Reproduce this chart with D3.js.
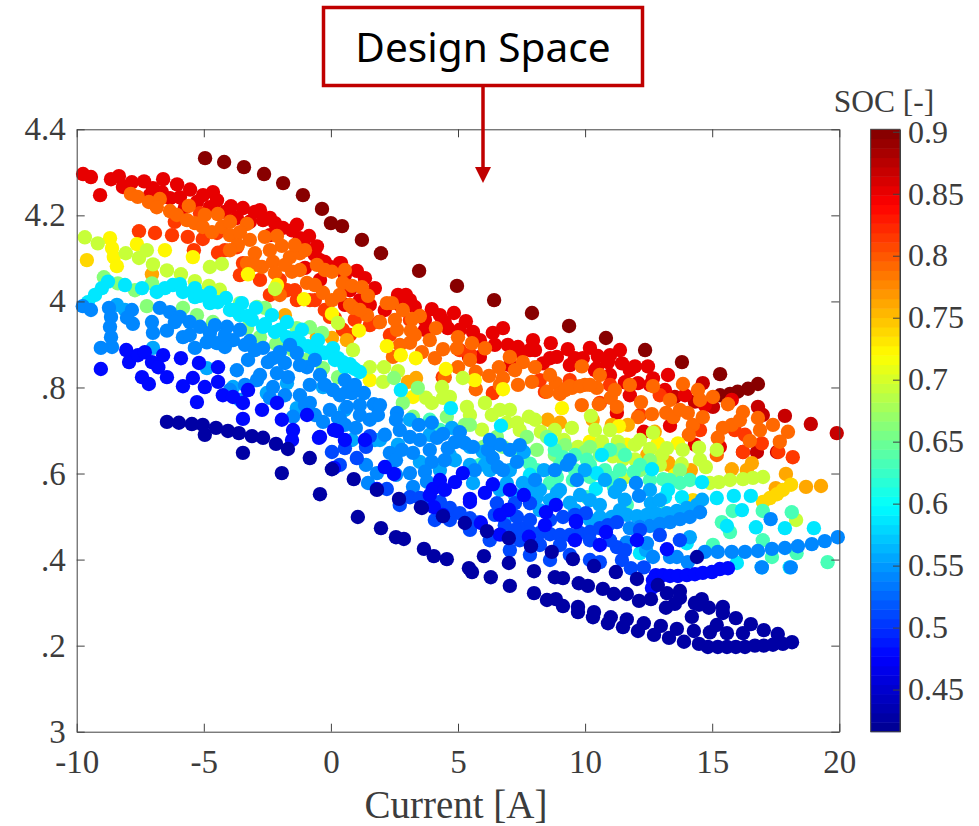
<!DOCTYPE html>
<html>
<head>
<meta charset="utf-8">
<title>Design Space</title>
<script src="https://cdn.jsdelivr.net/npm/d3@7"></script>
<style>
  html, body { margin: 0; padding: 0; background: #fff; }
  svg { display: block; }
  text { font-family: "Liberation Serif", serif; fill: #3c3c3c; }
</style>
</head>
<body>
<div id="chart-container"></div>
<script>
// tick labels (the y labels really are cut off like this in the figure)
const xTicks = [-10, -5, 0, 5, 10, 15, 20];
const xTickLabels = ["-10", "-5", "0", "5", "10", "15", "20"];
const yTicks = [3, 3.2, 3.4, 3.6, 3.8, 4, 4.2, 4.4];
const yTickLabels = ["3", ".2", ".4", ".6", ".8", "4", "4.2", "4.4"];
const socTicks = [0.45, 0.5, 0.55, 0.6, 0.65, 0.7, 0.75, 0.8, 0.85, 0.9];
const socTickLabels = ["0.45", "0.5", "0.55", "0.6", "0.65", "0.7", "0.75", "0.8", "0.85", "0.9"];
const socRange = [0.416, 0.902];

// jet colour map stops
const jetStops = [0, 0.125, 0.375, 0.625, 0.875, 1];
const jetColors = ["#00008f", "#0000ff", "#00ffff", "#ffff00", "#ff0000", "#800000"];

// [current A, voltage V], one list per SOC level
const soc900 = [[-4.95,4.333],[-4.2,4.324],[-3.42,4.312],[-2.63,4.296],[-1.88,4.275],[-1.1,4.247],[-.35,4.215],[0,4.182],[.44,4.175],[1.22,4.143],[1.97,4.112],[3.47,4.071],[4.96,4.036],[6.42,4.003],[7.91,3.973],[9.37,3.943],[10.82,3.915],[12.36,3.887],[13.81,3.859],[15.31,3.831],[16.8,3.808],[16.41,3.797],[16,3.79],[15.7,3.785],[15.31,3.782]];
const soc868 = [[18.88,3.715],[19.9,3.694],[17.86,3.734],[14.63,3.81],[13.53,3.778],[14.32,3.767],[15.03,3.755],[16.99,3.736],[16.8,3.755],[17.55,3.65],[16.76,3.65],[16.21,3.65]];
const soc856 = [[-9.75,4.296],[-9.44,4.289],[-9.08,4.247],[-8.65,4.284],[-8.34,4.291],[-8.18,4.266],[-7.83,4.277],[-7.35,4.279],[-7,4.263],[-6.6,4.284],[-6.05,4.272],[-5.94,4.242],[-5.54,4.26],[-5.03,4.247],[-4.64,4.254],[-4.48,4.235],[-3.93,4.221],[-3.46,4.217],[-2.79,4.212],[-2.67,4.189],[-2.2,4.182],[-1.53,4.165],[-.86,4.152],[-.55,4.128],[-.43,4.096],[.4,4.089],[-.04,4.08],[.35,4.089],[1.02,4.071],[1.34,4.054],[1.73,4.031],[2.64,4.015],[2.95,4.015],[3.3,3.987],[3.97,3.982],[4.29,3.968],[4.84,3.973],[5.31,3.954],[4.6,3.938],[3.7,3.934],[5.59,3.929],[6.37,3.927],[6.77,3.938],[6.96,3.899],[7.36,3.894],[7.95,3.91],[7.83,3.887],[8.65,3.903],[8.89,3.871],[9.32,3.889],[9.91,3.868],[10.5,3.873],[10.98,3.875],[10.46,3.845],[9.4,3.852],[8.34,3.856],[7.04,3.852],[5.86,3.871],[5.43,3.871],[10.9,3.859],[11.45,3.856],[11.96,3.849],[12.47,3.849],[10.39,3.84],[10.98,3.829],[11.57,3.812],[12.08,3.81],[12.67,3.821],[13.26,3.829],[11.76,3.782],[11.25,3.741],[13.34,3.711],[12.31,3.697],[14.32,3.667],[15.3,3.662],[15.77,3.771],
  [-7.12,4.247],[-6.65,4.254],[-6.33,4.24],[-5.74,4.219],[-5.27,4.231],[-4.76,4.219],[-4.17,4.208],[-3.7,4.194],[-3.19,4.185],[-2.99,4.208],[-2.4,4.194],[-1.89,4.171],[-2.4,4.154],[-1.22,4.147],[-1.34,4.178],[-1.02,4.124],[-.63,4.108],[-.24,4.092],[-1.02,4.078],[-.43,4.05],[.55,4.061],[.75,4.026],[1.14,4.003],[.55,3.992],[1.53,3.992],[2.12,3.98],[2.71,3.992],[3.11,4.003],[3.7,3.957],[4.48,3.952],[5.07,3.934],[5.86,3.91],[6.45,3.899],[7.43,3.882],[8.03,3.887],[8.62,3.868],[9.6,3.868],[10.19,3.892],[11.37,3.887],[11.76,3.84],[12.55,3.806],[13.14,3.794],[13.93,3.782],[14.71,3.759]];
const soc818 = [[-7.55,4.163],[-6.92,4.159],[-6.25,4.154],[-5.63,4.15],[-5.04,4.145],[-4.48,4.159],[-4.44,4.113],[-5.39,4.119],[-3.7,4.126],[-5.15,4.205],[-6.14,4.185],[-3.46,4.089],[-1.34,4.003],[-.83,4.003],[-1.73,4.026],[.47,3.934],[-.04,3.964],[1.89,3.952],[5.47,3.878],[6.37,3.787],[4.4,3.824],[8.42,3.79],[10.58,3.764],[16.95,3.67],[16.21,3.65],[18.17,3.638],[17.6,3.65],[16.29,3.69],
  [-4.17,4.119],[-3.58,4.061],[-2.79,4.05],[-2.01,4.05],[-2.4,4.015],[-1.42,4.026],[-.63,4.003],[-.24,3.98],[.16,3.961],[.94,3.957],[1.53,3.945],[.75,3.922],[2.32,3.922],[3.11,3.957],[5.07,3.887],[8.22,3.817],[9.4,3.817],[10.98,3.806],[12.94,3.782],[12.16,3.736],[14.52,3.701],[15.89,3.701]];
const soc790 = [[-7.87,4.25],[-7.6,4.243],[-7.16,4.231],[-6.73,4.238],[-6.85,4.219],[-6.33,4.21],[-6.06,4.201],[-5.59,4.222],[-5.66,4.189],[-5.35,4.182],[-5.04,4.173],[-4.45,4.203],[-4.68,4.161],[-4.29,4.173],[-3.97,4.154],[-3.3,4.18],[-3.66,4.131],[-3.3,4.089],[-2.99,4.112],[-2.6,4.15],[-2.12,4.152],[-1.93,4.129],[-2.71,4.08],[-2.28,4.092],[-2.2,4.066],[-1.61,4.103],[-1.22,4.112],[-1.02,4.119],[-1.53,4.069],[-.94,4.043],[-.55,4.085],[.04,4.069],[-.31,4.02],[.04,4.003],[.47,4.043],[.83,4.036],[1.22,4.033],[1.46,4.013],[.87,3.985],[1.42,3.968],[1.93,3.952],[2.2,3.996],[2.4,3.996],[2.83,3.98],[3.5,3.966],[3.19,3.959],[2.6,3.934],[3.15,3.932],[3.11,3.904],[2.44,3.871],[3.58,3.882],[4.13,3.938],[4.41,3.889],[5,3.917],[5.55,3.903],[6.06,3.891],[4.96,3.891],[4.09,3.868],[5,3.847],[4.48,3.824],[5.7,3.836],[6.22,3.827],[6.61,3.847],[7.04,3.871],[7.55,3.859],[8.03,3.847],[6.77,3.822],[7.36,3.806],[7.91,3.813],[8.5,3.79],[8.85,3.81],[9.01,3.785],[9.4,3.803],[9.87,3.849],[9.99,3.806],[10.46,3.799],[9.87,3.759],[10.54,3.761],[5.7,3.796],[11.01,3.776],[11.25,3.755],[12.2,3.766],[12.63,3.738],[12.67,3.803],[13.19,3.741],[13.47,3.731],[13.85,3.808],[14.04,3.741],[14.44,3.794],[14.24,3.713],[14.63,3.731],[15.03,3.778],[15.62,3.761],[15.77,3.713],[15.42,3.706],[16.21,3.743],[16.8,3.729],[17.39,3.713],[17.98,3.697],[17.66,3.674],[16.48,3.676],[14.08,3.69],[15.22,3.683],[15.18,3.643],[12.08,3.731],
  [-4.96,4.201],[-3.97,4.185],[-3.58,4.161],[-3.19,4.143],[-3.97,4.119],[-2.99,4.085],[-1.81,4.085],[-2.4,4.119],[-1.42,4.131],[-2.01,4.015],[-1.22,4.073],[-.63,4.038],[.35,4.015],[.75,3.992],[1.14,3.98],[-.24,4.073],[.55,4.073],[2.52,3.957],[3.89,3.91],[3.3,3.922],[2.71,3.899],[5.47,3.864],[7.24,3.84],[6.65,3.806],[8.62,3.829],[10.58,3.829],[11.17,3.794],[11.76,3.806],[13.34,3.771],[13.73,3.748],[14.52,3.771],[16.09,3.724],[16.88,3.701],[9.21,3.794],[9.48,3.799],[9.8,3.803],[10.19,3.806]];
const soc762 = [[18.69,3.569],[19.28,3.571],[17.9,3.599],[17.5,3.566],[16.56,3.624],[15.77,3.61],[16.36,3.608],[-7.04,4.063],[3.35,3.822],[3.03,3.813],[8.53,3.725],[9.01,3.718],[12.44,3.643],[13.3,3.62],[14.16,3.608],[12.74,3.697],[-1.81,3.968],[.63,3.91],[.04,3.915],[-.55,3.917],[13.26,3.626],[10.3,3.725],[11.05,3.713],[11.68,3.713]];
const soc739 = [[-9.6,4.096],[18.1,3.574],[17.78,3.562],[17.55,3.552],[17.27,3.543],[17,3.534],[14.24,3.538]];
const soc720 = [[-8.69,4.147],[-8.61,4.124],[-8.54,4.103],[-8.42,4.082],[-7.63,4.133],[-6.53,4.119],[-5.43,4.103],[-3.26,4.063],[-2.12,4.038],[-1.06,4.005],[.04,3.971],[1.1,3.932],[2.2,3.896],[3.34,3.868],[4.52,3.843],[5.66,3.817],[6.77,3.796],[9.09,3.752],[11.33,3.71],[10.19,3.674],[11.64,3.667],[13.65,3.67],[12.86,3.67],[13.53,3.596],[1.53,3.817],[3.23,3.778],[2.75,3.875]];
const soc693 = [[-9.68,4.149],[-9.17,4.135],[-8.07,4.112],[-7.55,4.101],[-7.24,4.119],[-7,4.086],[-6.45,4.072],[-5.9,4.063],[-5.35,4.047],[-4.8,4.036],[-4.76,4.08],[-4.29,4.087],[-4.37,4.027],[-2.2,4.029],[.28,3.95],[5.19,3.822],[10.23,3.734],[7.79,3.732],[7.04,3.748],[6.06,3.764],[6.33,3.736],[5.35,3.755],[.87,3.887],[1.53,3.847],[2.09,3.847],[2.64,3.838],[2.05,3.813],[17,3.592],[16.6,3.59],[16.21,3.587],[15.7,3.585],[15.26,3.58],[14.91,3.578],[12.67,3.695],[15.18,3.655],[13.84,3.655],[14.48,3.66],[14.52,3.632],[14.75,3.615],[13.8,3.622],[13.02,3.643],[13.22,3.659],[12.55,3.657],[11.96,3.667],[11.29,3.674],[10.66,3.674],[11.09,3.64],[11.49,3.633],[11.49,3.588],[11.96,3.633],[12.94,3.62],[9.48,3.706],[9.17,3.678],[9.72,3.662],[10.66,3.671],[8.26,3.697],[6.92,3.718],[7.32,3.718],[5.94,3.702],[4.37,3.801],[4.68,3.778],[4.41,3.776],[3.74,3.776],[3.97,3.764],[18.3,3.492],
  [5.47,3.736],[7.43,3.701],[8.03,3.725],[8.81,3.701],[10.39,3.701],[10.98,3.701],[12.16,3.678],[6.65,3.748]];
const soc659 = [[-8.93,4.056],[-8.38,4.042],[-7.71,4.026],[-7.24,3.989],[-7.04,4.042],[-5.82,3.985],[-5.27,3.968],[-4.64,3.952],[-3.58,3.996],[-2.91,3.987],[-2.6,3.985],[-3.3,3.938],[-2.79,3.917],[-2.16,3.901],[-1.34,3.938],[-.83,3.94],[-.35,3.927],[-.31,3.845],[-.94,3.864],[-1.49,3.887],[.28,3.824],[2.48,3.822],[3.42,3.799],[2.83,3.764],[3.23,3.732],[4.56,3.732],[5.27,3.713],[5.47,3.713],[6.53,3.685],[7.71,3.685],[8.5,3.685],[8.1,3.655],[7.55,3.648],[6.77,3.662],[6,3.662],[10.19,3.662],
  [11.37,3.655],[10.58,3.643],[9.99,3.65],[9.21,3.666],[8.81,3.643],[12.16,3.608],[13.73,3.608],[12.55,3.631]];
const soc630 = [[7.16,3.654],[8.1,3.608],[8.89,3.592],[9.52,3.585],[10.07,3.545],[8.61,3.578],[7.83,3.623],[9.13,3.638],[10.07,3.632],[11.13,3.569],[10.19,3.592],[11.92,3.604],[11.05,3.59],[13.07,3.587],[13.73,3.578],[11.64,3.527],[13.14,3.508],[15.38,3.487],[15.7,3.464],[15.81,3.513],[16.99,3.513],[18.13,3.51],[16.99,3.445],[15.03,3.434],[17.35,3.406],[18.32,3.415],[19.54,3.394],
  [8.81,3.655],[9.6,3.643],[10.98,3.655],[11.57,3.643],[12.16,3.62],[12.55,3.585],[13.34,3.585],[14.12,3.585],[9.6,3.608],[10.19,3.62],[10.78,3.608],[11.37,3.608],[9.01,3.62],[6.25,3.643],[5.86,3.62],[4.29,3.701],[3.89,3.725]];
const soc590 = [[-8.77,4.046],[-9.01,4.031],[-9.28,4.015],[-9.56,3.998],[-8.1,4.038],[-7.43,4.031],[-6.85,4.022],[-6.53,4.031],[-6.22,4.038],[-5.94,4.04],[-5.82,4.022],[-5.35,4.031],[-5.35,4.01],[-4.76,4.02],[-4.76,3.996],[-4.13,4.008],[-3.97,3.98],[-3.5,3.996],[-3.58,3.968],[-2.95,3.985],[-3.11,3.957],[-2.67,3.941],[-2.32,3.968],[-2.2,3.929],[-1.73,3.952],[-1.73,3.917],[-1.22,3.905],[-1.14,3.934],[-.71,3.891],[-.51,3.91],[-.24,3.88],[.08,3.891],[.16,3.864],[.55,3.847],[.83,3.847],[1.14,3.836],[.47,3.859],[2.75,3.794],[4.72,3.752],[6.69,3.711],[8.65,3.678],[10.66,3.643],[12.63,3.61],[14.6,3.58],[10.46,3.601],[10.42,3.564],[7.83,3.597],[13.26,3.562],[13.14,3.545],[13.81,3.545],[15.18,3.543],[15.85,3.548],[16.52,3.548],[16.17,3.515],[16.72,3.475],[17.86,3.473],[19,3.473],[15.58,3.478],[14,3.438],[15.97,3.392],[12.16,3.415],[16.95,3.382],[18.05,3.382],
  [-5.15,4.013],[-4.45,3.998],[-3.82,3.98],[-3.27,3.966],[-2.6,3.947],[-2.01,3.934],[-1.42,3.915],[-.9,3.896],[-.35,3.882],[.28,3.868],[.75,3.854],[.94,3.843]];
const soc560 = [[-8.42,3.992],[-8.1,3.98],[-7,3.892],[-4.88,3.845],[-3.85,3.801],[-2.52,3.787],[-1.73,3.81],[-.31,3.801],[-1.34,3.752],[4.76,3.706],[5.47,3.662],[6.92,3.578],[7.55,3.578],[8.1,3.545],[8.89,3.555],[9.4,3.532],[7.59,3.65],[8.38,3.608],[5.59,3.578],[5.98,3.65],[11.17,3.557],[12.59,3.531],[14.12,3.452],[12.4,3.422],[.83,3.678],[2.64,3.667],[3.5,3.627],[1.93,3.678],[4.29,3.608],[4.88,3.631],[6.25,3.608],[7.04,3.608],[8.22,3.562],[10.19,3.492],[11.56,3.539],[11.64,3.504],[12.04,3.501],[12.43,3.504],[12.82,3.506],[13.22,3.508],[13.61,3.513],[14,3.52],[14.4,3.527],[14.6,3.539],[10.58,3.499],[11.05,3.499],
  [.55,3.748],[1.73,3.678],[3.11,3.725],[3.89,3.69],[4.68,3.643],[5.47,3.62],[6.06,3.62],[6.65,3.562],[7.24,3.55],[7.83,3.562],[8.62,3.538],[9.01,3.562],[9.8,3.55],[10.19,3.538],[10.58,3.527],[11.37,3.515],[9.6,3.515],[8.22,3.515],[7.04,3.504],[12.55,3.562],[12.94,3.538],[10.78,3.585],[11.37,3.573],[9.99,3.608]];
const soc545 = [[-8.73,3.985],[-8.65,3.964],[-8.69,3.941],[-8.65,3.917],[-8.61,3.894],[-9.05,3.892],[-9.76,3.989],[-9.44,3.98],[-7.83,3.98],[-7.79,3.948],[-8.02,3.962],[-6.73,3.985],[-6.33,3.975],[-5.94,3.964],[-5.55,3.952],[-5.15,3.941],[-4.76,3.927],[-7.04,3.952],[-7,3.927],[-6.45,3.932],[-5.82,3.917],[-5.35,3.892],[-4.88,3.905],[-4.48,3.903],[-4.09,3.941],[-3.85,3.91],[-4.17,3.894],[-3.19,3.908],[-3.7,3.84],[-3.26,3.864],[-2.67,3.892],[-2.28,3.868],[-1.81,3.857],[-1.34,3.88],[-.94,3.847],[-1.69,3.824],[-.43,3.829],[.08,3.794],[-2.28,3.801],[-2.4,3.776],[-1.49,3.732],[-3.97,3.794],[-2.91,3.817],[-2.12,3.833],[-.83,3.764],[-.31,3.72],[.28,3.729],[.63,3.79],[.83,3.787],[1.3,3.787],[1.69,3.761],[.63,3.755],[.35,3.729],[.98,3.706],[1.53,3.725],[1.85,3.736],[2.6,3.741],[2.56,3.725],[3.11,3.685],[3.46,3.713],[3.97,3.718],[4.41,3.692],[4.88,3.673],[4.6,3.659],[5.27,3.671],[5.59,3.662],[6.18,3.655],[6.37,3.636],[6.77,3.608],[6.57,3.615],[7.32,3.627],[9.28,3.62],[9.68,3.585],[6.65,3.667],[12,3.578],[12.12,3.548],[17.3,3.494],[2.32,3.648],[2.79,3.655],[3.23,3.648],[3.89,3.655],[4.48,3.631],[3.97,3.627],[3.7,3.604],[3.11,3.601],[3.23,3.569],[3.78,3.581],[1.38,3.62],[1.46,3.578],[1.81,3.601],[2.2,3.615],[2.56,3.597],[2.56,3.631],[14.71,3.418],[15.22,3.418],[15.77,3.418],[16.29,3.418],[16.8,3.42],[17.35,3.425],[17.86,3.427],[18.37,3.431],[18.92,3.436],[19.43,3.443],[19.94,3.452],[16.95,3.382],[18.09,3.382],[11.76,3.473],[12.16,3.476],[12.55,3.478],[12.94,3.483],[13.34,3.487],[13.73,3.494],[14.12,3.499],[14.52,3.51],[11.64,3.44],[12.43,3.438],[12.67,3.406],[13.34,3.406],[13.61,3.406],[14.04,3.394],
  [-5.55,3.922],[-6.14,3.952],[-4.56,3.945],[-4.17,3.922],[-3.58,3.934],[-3.38,3.899],[-2.99,3.887],[-2.48,3.859],[-2.01,3.882],[-1.61,3.899],[-1.22,3.852],[-.63,3.864],[-.24,3.806],[-.83,3.806],[-1.22,3.782],[-1.81,3.782],[-2.79,3.829],[-3.38,3.806],[-3.58,3.771],[.55,3.817],[.94,3.806],[.35,3.782],[1.14,3.759],[-.04,3.748],[-.63,3.736],[-1.02,3.759],[.55,3.713],[1.14,3.736],[2.12,3.69],[2.71,3.701],[1.93,3.759],[3.5,3.678],[4.17,3.683],[5.07,3.696],[5.66,3.608],[6.25,3.678],[7.04,3.655],[7.43,3.666],[8.03,3.585],[8.81,3.608],[9.4,3.631]];
const soc514 = [[7.51,3.473],[7.83,3.464],[8.22,3.462],[8.62,3.459],[9.01,3.457],[9.4,3.457],[9.8,3.462],[10.19,3.464],[10.58,3.473],[10.9,3.48],[11.25,3.487],[3.11,3.545],[3.5,3.543],[3.89,3.538],[4.29,3.534],[4.68,3.52],[5.07,3.508],[5.47,3.496],[5.86,3.487],[.35,3.62],[.55,3.659],[.04,3.65],[1.38,3.662],[1.02,3.636],[1.53,3.687],[2.2,3.564],[7.24,3.531],[6.53,3.531],[7.32,3.499],[7.83,3.531],[9.13,3.499],[10.03,3.508],[10.58,3.394],[11.45,3.399],[11.8,3.38],[12.31,3.382],[11.25,3.429],
  [6.45,3.504],[6.84,3.48],[7.24,3.469],[7.83,3.492],[8.62,3.492],[9.6,3.504],[10.19,3.445],[10.98,3.445],[9.01,3.434],[8.22,3.434],[7.43,3.445],[11.57,3.422],[12.16,3.469],[12.94,3.457],[13.73,3.445],[4.09,3.492],[2.71,3.527],[4.68,3.492],[5.47,3.469],[6.25,3.445],[7.04,3.422],[7.83,3.411],[8.62,3.399],[9.4,3.411],[10.19,3.399]];
const soc478 = [[-8.05,3.887],[-7.94,3.859],[-7.59,3.875],[-7.32,3.882],[-7.43,3.824],[-7.16,3.808],[-9.05,3.843],[-7.04,3.859],[-6.6,3.875],[-6.79,3.847],[-6.45,3.824],[-5.9,3.868],[-5.82,3.803],[-5.43,3.822],[-5.19,3.857],[-4.96,3.801],[-4.44,3.847],[-4.44,3.813],[-4.25,3.782],[-3.85,3.778],[-3.46,3.764],[-3.26,3.794],[-5.27,3.766],[-3.46,3.727],[-2.71,3.748],[-2.12,3.764],[-1.93,3.725],[-.94,3.736],[-1.49,3.701],[-.43,3.685],[.24,3.699],[-1.53,3.678],[-.47,3.683],[.12,3.701],[.12,3.613],[1.81,3.564],[2.48,3.599],[2.12,3.615],[4.05,3.522],[4.4,3.504],[5.47,3.541],[6.06,3.555],[6.37,3.575],[4.88,3.58],[5.19,3.601],[4.01,3.564],[7.59,3.55],[6.96,3.515],[8.46,3.51],[8.85,3.527],[9.64,3.49],[12.04,3.445],[13.22,3.424],[10.82,3.464],[9.64,3.487],[7,3.516],[5.47,3.534],[5.9,3.485],[6.65,3.458],[7.79,3.453],[12.78,3.364],[13.06,3.364],[13.34,3.362],[13.65,3.362],[14,3.364],[14.32,3.366],[14.63,3.369],[14.99,3.371],[15.3,3.378],[15.62,3.38],[12.63,3.334],[12.67,3.352],
  [.55,3.678],[1.34,3.678],[4.29,3.585],[3.89,3.55],[4.48,3.562],[7.04,3.562],[6.65,3.504],[8.42,3.48],[9.6,3.445],[10.58,3.434]];
const soc430 = [[-6.45,3.72],[-5.98,3.718],[-5.47,3.715],[-5.04,3.713],[-4.52,3.706],[-4.05,3.699],[-3.62,3.694],[-3.11,3.687],[-2.67,3.683],[-4.96,3.69],[-2.16,3.669],[-1.69,3.657],[-3.46,3.648],[-1.93,3.601],[-.83,3.636],[-.43,3.552],[.04,3.61],[.9,3.587],[1.06,3.499],[1.97,3.473],[2.56,3.452],[2.87,3.448],[3.66,3.425],[1.81,3.562],[2.68,3.541],[3.54,3.522],[4.05,3.408],[4.56,3.401],[5.43,3.38],[5.55,3.371],[6.02,3.408],[6.29,3.359],[7,3.392],[7.04,3.339],[7.99,3.373],[7.99,3.322],[8.5,3.306],[8.85,3.308],[9.13,3.292],[8.81,3.359],[9.13,3.357],[9.75,3.345],[10.11,3.339],[10.7,3.332],[11.13,3.32],[11.64,3.32],[9.72,3.29],[9.72,3.278],[10.35,3.278],[10.31,3.266],[11.01,3.266],[10.9,3.252],[11.64,3.261],[11.49,3.243],[12.31,3.252],[12.08,3.234],[12.98,3.246],[12.71,3.225],[13.3,3.218],[13.61,3.239],[13.89,3.209],[14.28,3.234],[14.48,3.204],[14.91,3.231],[14.83,3.197],[15.22,3.197],[15.58,3.197],[15.93,3.197],[16.29,3.197],[16.68,3.2],[17.03,3.2],[17.39,3.202],[17.78,3.204],[18.14,3.208],[17.58,3.227],[17.03,3.236],[16.52,3.25],[16.21,3.229],[15.93,3.264],[15.58,3.229],[15.18,3.248],[15.42,3.276],[15.42,3.29],[14.87,3.288],[14.2,3.267],[14.59,3.308],[14.32,3.299],[14.48,3.295],[13.73,3.327],[13.73,3.311],[13.53,3.297],[13.18,3.288],[13.22,3.322],[12.59,3.308],[12.12,3.304],[12.04,3.355],[12.86,3.341],[11.21,3.371],[10.35,3.385],[9.52,3.401],[8.69,3.418],[7.87,3.431],[7,3.45],[6.14,3.466],[5.27,3.485],[4.41,3.501],[3.58,3.52],[14.4,3.406]];

// high SOC is drawn first, low SOC ends up on top
const socLevels = [0.9, 0.868, 0.856, 0.818, 0.79, 0.762, 0.739, 0.72, 0.693, 0.659, 0.63, 0.59, 0.56, 0.545, 0.514, 0.478, 0.43];
const socSeries = [soc900, soc868, soc856, soc818, soc790, soc762, soc739, soc720, soc693, soc659, soc630, soc590, soc560, soc545, soc514, soc478, soc430];

const width = 979, height = 826;
const plot = { left: 76.7, right: 839.3, top: 129.3, bottom: 731.7 };
const bar = { left: 870.7, right: 900 };

const svg = d3.select("#chart-container")
  .append("svg")
    .attr("width", width)
    .attr("height", height);

const x = d3.scaleLinear().domain([-10, 20]).range([plot.left, plot.right]);
const y = d3.scaleLinear().domain([3, 4.4]).range([plot.bottom, plot.top]);
const socY = d3.scaleLinear().domain(socRange).range([plot.bottom, plot.top]);

// jet is stepped in 64 levels like the colour bar
const jet = d3.scaleLinear().domain(jetStops).range(jetColors).clamp(true);
const socColor = soc => {
  const t = (soc - socRange[0]) / (socRange[1] - socRange[0]);
  return jet((Math.min(Math.floor(t * 64), 63) + 0.5) / 64);
};

// points
socSeries.forEach((pts, i) => {
  svg.append("g")
    .selectAll("circle")
    .data(pts)
    .join("circle")
      .attr("cx", d => x(d[0]))
      .attr("cy", d => y(d[1]))
      .attr("r", 7.2)
      .attr("fill", socColor(socLevels[i]));
});

// axes, with ticks on all four sides like a boxed matlab plot
function styleAxis(g, size) {
  g.selectAll("path, line").attr("stroke", "#404040");
  g.selectAll("text").attr("font-size", size).attr("fill", "#3c3c3c");
}

svg.append("g")
  .attr("transform", `translate(0,${plot.bottom})`)
  .call(d3.axisBottom(x).tickValues(xTicks).tickSizeInner(-8).tickSizeOuter(0).tickPadding(18)
    .tickFormat((d, i) => xTickLabels[i]))
  .call(styleAxis, 33);

svg.append("g")
  .attr("transform", `translate(${plot.left},0)`)
  .call(d3.axisLeft(y).tickValues(yTicks).tickSizeInner(-8).tickSizeOuter(0).tickPadding(11)
    .tickFormat((d, i) => yTickLabels[i]))
  .call(styleAxis, 33);

svg.append("g")
  .attr("transform", `translate(0,${plot.top})`)
  .call(d3.axisTop(x).tickValues(xTicks).tickSizeInner(-8).tickSizeOuter(0).tickFormat(""))
  .call(styleAxis, 33);

svg.append("g")
  .attr("transform", `translate(${plot.right},0)`)
  .call(d3.axisRight(y).tickValues(yTicks).tickSizeInner(-8).tickSizeOuter(0).tickFormat(""))
  .call(styleAxis, 33);

svg.append("text")
  .attr("x", 456)
  .attr("y", 818)
  .attr("text-anchor", "middle")
  .attr("font-size", 39)
  .text("Current [A]");

// colour bar
const barSteps = d3.range(64);
const stepH = (plot.bottom - plot.top) / 64;
svg.append("g")
  .selectAll("rect")
  .data(barSteps)
  .join("rect")
    .attr("x", bar.left)
    .attr("y", d => plot.bottom - (d + 1) * stepH)
    .attr("width", bar.right - bar.left)
    .attr("height", stepH + 0.5)
    .attr("fill", d => jet((d + 0.5) / 64));

svg.append("rect")
  .attr("x", bar.left)
  .attr("y", plot.top)
  .attr("width", bar.right - bar.left)
  .attr("height", plot.bottom - plot.top)
  .attr("fill", "none")
  .attr("stroke", "#404040");

svg.append("g")
  .attr("transform", `translate(${bar.right},0)`)
  .call(d3.axisRight(socY).tickValues(socTicks).tickSizeInner(-7).tickSizeOuter(0).tickPadding(8)
    .tickFormat((d, i) => socTickLabels[i]))
  .call(styleAxis, 32);

svg.append("text")
  .attr("x", 884)
  .attr("y", 112)
  .attr("text-anchor", "middle")
  .attr("font-size", 31.5)
  .text("SOC [-]");

// callout box and arrow
const red = "#c00000";
svg.append("rect")
  .attr("x", 323.5)
  .attr("y", 7.5)
  .attr("width", 319)
  .attr("height", 78)
  .attr("fill", "#fff")
  .attr("stroke", red)
  .attr("stroke-width", 3.5);

svg.append("text")
  .attr("x", 483)
  .attr("y", 62)
  .attr("text-anchor", "middle")
  .attr("font-size", 40.6)
  .style("font-family", '"Noto Sans", sans-serif')
  .style("fill", "#000")
  .text("Design Space");

svg.append("line")
  .attr("x1", 483).attr("x2", 483)
  .attr("y1", 86).attr("y2", 168)
  .attr("stroke", red)
  .attr("stroke-width", 3.5);

svg.append("path")
  .attr("d", d3.line()([[475, 167], [491, 167], [483, 183]]))
  .attr("fill", red);
</script>
</body>
</html>
